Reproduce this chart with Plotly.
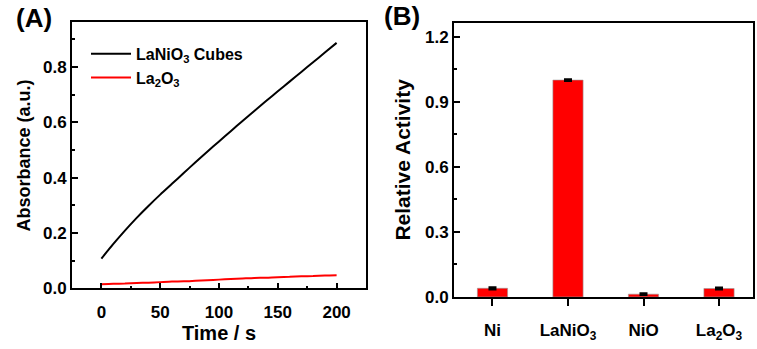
import plotly.graph_objects as go

# Panel A data
time_s = [0, 10, 20, 30, 40, 50, 60, 70, 80, 90, 100, 110, 120, 130, 140, 150, 160, 170, 180, 190, 200]
abs_lanio3 = [0.108, 0.160, 0.209, 0.255, 0.298, 0.339, 0.378, 0.417, 0.456, 0.494, 0.531,
              0.568, 0.605, 0.641, 0.677, 0.712, 0.747, 0.782, 0.817, 0.852, 0.887]
abs_la2o3 = [0.015, 0.017, 0.018, 0.020, 0.021, 0.023, 0.025, 0.026, 0.028, 0.030, 0.032,
             0.034, 0.036, 0.038, 0.039, 0.041, 0.042, 0.044, 0.045, 0.047, 0.048]

# Panel B data
categories = ["Ni", "LaNiO<sub>3</sub>", "NiO", "La<sub>2</sub>O<sub>3</sub>"]
rel_activity = [0.040, 1.000, 0.013, 0.039]
rel_err = [0.004, 0.003, 0.003, 0.003]

FONT = "Liberation Sans"

fig = go.Figure()
fig.add_trace(go.Scatter(x=time_s, y=abs_lanio3, mode="lines", name="LaNiO<sub>3</sub> Cubes",
                         line=dict(color="black", width=2, shape="spline", smoothing=0.8),
                         xaxis="x", yaxis="y"))
fig.add_trace(go.Scatter(x=time_s, y=abs_la2o3, mode="lines", name="La<sub>2</sub>O<sub>3</sub>",
                         line=dict(color="#ff0000", width=2, shape="spline", smoothing=0.8),
                         xaxis="x", yaxis="y"))
fig.add_trace(go.Bar(x=categories, y=rel_activity, width=0.4, showlegend=False,
                     marker=dict(color="#ff0000", line=dict(color="#999999", width=0.6)),
                     error_y=dict(type="data", array=rel_err, color="black", thickness=2.5, width=4),
                     xaxis="x2", yaxis="y2"))

tickfont = dict(family=FONT, size=17, color="black", weight="bold")

common = dict(showline=True, linecolor="black", linewidth=1.8, mirror=True, showgrid=False,
              zeroline=False, tickcolor="black", tickwidth=1.5, tickfont=tickfont)

fig.update_layout(
    width=757, height=349, margin=dict(l=0, r=0, t=0, b=0),
    paper_bgcolor="white", plot_bgcolor="white",
    font=dict(family=FONT, color="black"),
    xaxis=dict(domain=[0.0951, 0.4835], range=[-25, 225], tickvals=[0, 50, 100, 150, 200],
               ticks="inside", ticklen=6, anchor="y", ticklabelstandoff=7,
               minor=dict(ticks="inside", dtick=25, tick0=0, ticklen=3, tickcolor="black", tickwidth=1.5),
               title=dict(text="Time / s", font=dict(family=FONT, size=20, color="black", weight="bold"),
                          standoff=0), **common),
    yaxis=dict(domain=[0.149, 0.934], range=[0, 0.961], tickvals=[0, 0.2, 0.4, 0.6, 0.8],
               tickformat=".1f", ticks="inside", ticklen=6, anchor="x",
               minor=dict(ticks="inside", dtick=0.1, tick0=0, ticklen=3, tickcolor="black", tickwidth=1.5),
               title=dict(text="Absorbance (a.u.)", font=dict(family=FONT, size=18, color="black", weight="bold"),
                          standoff=8), **common),
    xaxis2=dict(domain=[0.5997, 0.9947], range=[-0.51, 3.45], type="category",
                ticks="outside", ticklen=7, anchor="y2", ticklabelstandoff=10,
                **common),
    yaxis2=dict(domain=[0.124, 0.933], range=[0, 1.2646], tickvals=[0, 0.3, 0.6, 0.9, 1.2],
                tickformat=".1f", ticks="inside", ticklen=6, anchor="x2",
                minor=dict(ticks="inside", dtick=0.15, tick0=0, ticklen=3, tickcolor="black", tickwidth=1.5),
                title=dict(text="Relative Activity", font=dict(family=FONT, size=21, color="black", weight="bold"),
                           standoff=9), **common),
    legend=dict(x=(86 / 757), y=1 - 38 / 349, xanchor="left", yanchor="top",
                bgcolor="rgba(0,0,0,0)", font=dict(family=FONT, size=16, color="black", weight="bold"),
                itemwidth=40),
    annotations=[
        dict(text="(A)", x=34 / 757, y=1 - 19 / 349, xref="paper", yref="paper", showarrow=False,
             xanchor="center", yanchor="middle",
             font=dict(family=FONT, size=26, color="black", weight="bold")),
        dict(text="(B)", x=402 / 757, y=1 - 16 / 349, xref="paper", yref="paper", showarrow=False,
             xanchor="center", yanchor="middle",
             font=dict(family=FONT, size=26, color="black", weight="bold")),
    ],
)

fig.write_html("out.html")
